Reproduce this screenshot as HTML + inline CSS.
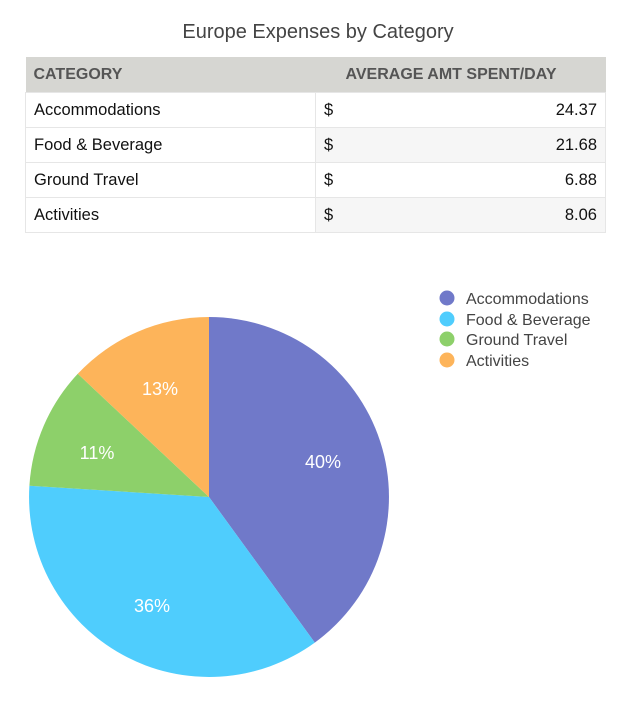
<!DOCTYPE html>
<html><head><style>
body{margin:0;background:#fff;width:636px;height:703px;position:relative;font-family:"Liberation Sans",sans-serif;overflow:hidden}
.t{position:absolute;left:0;width:636px;top:21px;text-align:center;font-size:20px;color:#444}
table{position:absolute;left:25px;top:57px;width:581px;border-collapse:collapse;font-size:16.5px;color:#111}
td{height:34px;border:1px solid #e6e6e6;padding:0 8px}
th{height:35px;background:#d6d6d2;color:#555;font-weight:bold;font-size:16px;text-align:left;padding:0 8px}
.r{text-align:right}
.c2{border-left:1.5px solid #bbb}
.g{background:#f6f6f6}
</style></head><body>
<div class="t">Europe Expenses by Category</div>
<table>
<tr><th style="width:274px">CATEGORY</th><th colspan="2" style="text-align:left;padding-left:30px">AVERAGE AMT SPENT/DAY</th></tr>
<tr><td>Accommodations</td><td class="c2" style="border-right:none;width:20px">$</td><td class="r" style="border-left:none">24.37</td></tr>
<tr><td>Food &amp; Beverage</td><td class="c2 g" style="border-right:none">$</td><td class="r g" style="border-left:none">21.68</td></tr>
<tr><td>Ground Travel</td><td class="c2" style="border-right:none">$</td><td class="r" style="border-left:none">6.88</td></tr>
<tr><td>Activities</td><td class="c2 g" style="border-right:none">$</td><td class="r g" style="border-left:none">8.06</td></tr>
</table>
<svg width="636" height="703" style="position:absolute;left:0;top:0" font-family="Liberation Sans, sans-serif">
<path d="M209,497 L209,317 A180,180 0 0 1 314.8,642.6 Z" fill="#7079c9"/>
<path d="M209,497 L314.8,642.6 A180,180 0 0 1 29.4,485.7 Z" fill="#4fcdfd"/>
<path d="M209,497 L29.4,485.7 A180,180 0 0 1 77.8,373.8 Z" fill="#8dd06a"/>
<path d="M209,497 L77.8,373.8 A180,180 0 0 1 209,317 Z" fill="#fdb45a"/>
<g fill="#fff" font-size="18" text-anchor="middle">
<text x="323" y="468">40%</text>
<text x="152" y="612">36%</text>
<text x="97" y="459">11%</text>
<text x="160" y="395">13%</text>
</g>
<circle cx="447" cy="298" r="7.5" fill="#7079c9"/>
<circle cx="447" cy="319" r="7.5" fill="#4fcdfd"/>
<circle cx="447" cy="339" r="7.5" fill="#8dd06a"/>
<circle cx="447" cy="360" r="7.5" fill="#fdb45a"/>
<g fill="#444" font-size="16">
<text x="466" y="304">Accommodations</text>
<text x="466" y="325">Food &amp; Beverage</text>
<text x="466" y="345">Ground Travel</text>
<text x="466" y="366">Activities</text>
</g>
</svg>
</body></html>
